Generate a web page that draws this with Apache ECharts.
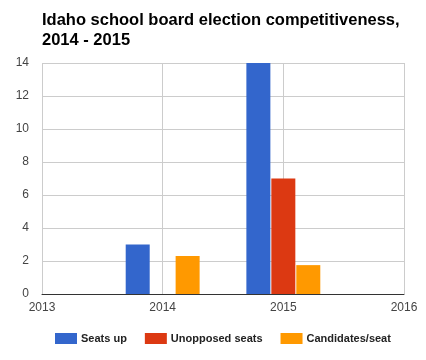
<!DOCTYPE html>
<html><head><meta charset="utf-8">
<script src="https://cdn.jsdelivr.net/npm/echarts@6/dist/echarts.min.js"></script>
<style>html,body{margin:0;padding:0;background:#fff}#c{width:426px;height:360px}</style>
</head><body><div id="c"></div>
<script>
const years = [2014, 2015];
const seatsUp = [3, 14];
const unopposed = [0, 7];
const candidatesPerSeat = [2.3, 1.75];
const seriesNames = ['Seats up', 'Unopposed seats', 'Candidates/seat'];
const colors = ['#3366cc', '#dc3912', '#ff9900'];
const yTicks = [0, 2, 4, 6, 8, 10, 12, 14];
const xTicks = [2013, 2014, 2015, 2016];

const pairs = arr => years.map((y, i) => [y, arr[i]]);
const chart = echarts.init(document.getElementById('c'));
chart.setOption({
  animation: false,
  color: colors,
  title: {
    text: 'Idaho school board election competitiveness,\n2014 - 2015',
    left: 42, top: 10, padding: 0,
    textStyle: {fontFamily: 'Liberation Sans', fontWeight: 'bold', fontSize: 16.5, lineHeight: 20, color: '#000'}
  },
  grid: {left: 42, right: 22, top: 63, bottom: 66},
  legend: {
    left: 55, top: 333, padding: 0, itemWidth: 22, itemHeight: 11, itemGap: 18,
    icon: 'rect',
    data: seriesNames,
    textStyle: {fontFamily: 'Liberation Sans', fontWeight: 'bold', fontSize: 11, color: '#222', padding: [0, 0, 0, -1]}
  },
  xAxis: {
    type: 'value', min: xTicks[0], max: xTicks[xTicks.length - 1], interval: 1,
    axisLine: {show: true, lineStyle: {color: '#333', width: 1}},
    axisTick: {show: false},
    splitLine: {show: true, lineStyle: {color: '#ccc'}},
    axisLabel: {formatter: v => String(v), color: '#444', fontFamily: 'Liberation Sans', fontSize: 12, margin: 8}
  },
  yAxis: {
    type: 'value', min: yTicks[0], max: yTicks[yTicks.length - 1], interval: 2,
    axisLine: {show: false}, axisTick: {show: false},
    splitLine: {show: true, lineStyle: {color: '#ccc'}},
    axisLabel: {color: '#444', fontFamily: 'Liberation Sans', fontSize: 12, margin: 13}
  },
  series: [
    {name: seriesNames[0], type: 'bar', data: pairs(seatsUp), barWidth: 24, barGap: '4%'},
    {name: seriesNames[1], type: 'bar', data: pairs(unopposed), barWidth: 24, barGap: '4%'},
    {name: seriesNames[2], type: 'bar', data: pairs(candidatesPerSeat), barWidth: 24, barGap: '4%'}
  ]
});
</script></body></html>
